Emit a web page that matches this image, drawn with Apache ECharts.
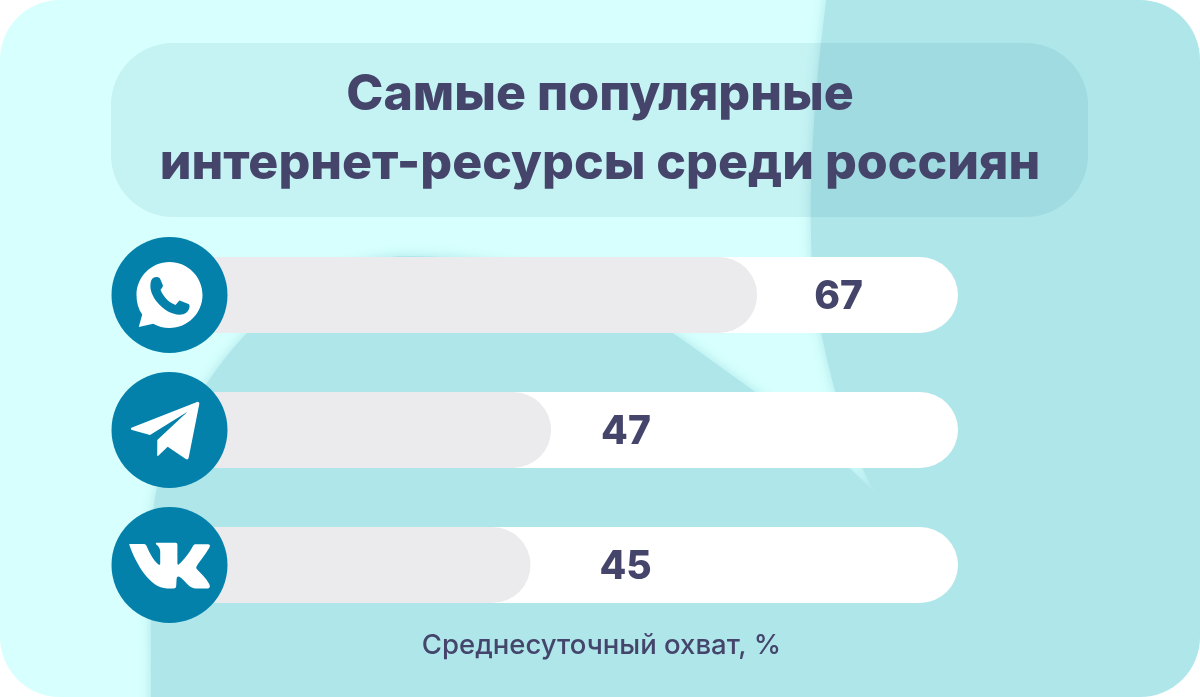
<!DOCTYPE html>
<html><head><meta charset="utf-8">
<style>html,body{margin:0;padding:0;background:#fff}#c{width:1200px;height:697px}</style>
<script src="https://cdn.jsdelivr.net/npm/echarts@6/dist/echarts.min.js"></script>
</head><body><div id="c"></div>
<script>
const categories = ['WhatsApp', 'Telegram', 'VK'];
const reach = [67, 47, 45];
const titleText = 'Самые популярные\nинтернет-ресурсы среди россиян';
const noteText = 'Среднесуточный охват, %';

const INK = '#45456b', BLUE = '#0381ab';
const labelGap = [57, 50, 69];
const axisMin = 10, axisMax = 86.5;

const chart = echarts.init(document.getElementById('c'), null, {renderer: 'canvas'});
function circle(cy) {
  return {type: 'circle', z: 10, silent: true, shape: {cx: 169.5, cy, r: 58}, style: {fill: BLUE}};
}
let shapeId = 0;
function raw(d, fill, z, extra) {
  const name = 'decor' + (shapeId++);
  echarts.graphic.registerShape(name, echarts.graphic.extendPath(d, {}));
  return {type: name, z: z, silent: true, style: Object.assign({fill: fill}, extra || {})};
}
const panel = {type: 'rect', z: -3, silent: true, shape: {x: 0, y: 0, width: 1200, height: 697, r: 60}, style: {fill: '#d6fffd'}};
const tealPath = 'M829 -20 L1220 -20 L1220 717 L151 717 C151 590 149 530 156 492 C188 385 280 256 410 256 C520 256 610 290 680 338 C745 385 820 435 876 494 C850 450 830 385 815 300 C808 240 808 130 829 -20 Z';
const cornerMask = 'M1140 0 L1200 0 L1200 60 A60 60 0 0 0 1140 0 Z M1200 637 L1200 697 L1140 697 A60 60 0 0 0 1200 637 Z';
const pill = {type: 'rect', z: -1, silent: true, shape: {x: 111, y: 43, width: 977, height: 174, r: 62}, style: {fill: 'rgba(0,92,128,0.08)'}};

const waBubble = 'M169.5 262 C187.7 262 202.5 276.8 202.5 295 C202.5 313.2 187.7 328 169.5 328 C163.5 328 158 326.4 153.2 323.7 L138.8 327 L142.2 314.6 C138.3 309.1 136.5 302.5 136.5 295 C136.5 276.8 151.3 262 169.5 262 Z';
const waPhone = 'M153 278 C156 276.5 158.5 277 160 278.5 L162.8 285 C163.3 286.5 162 288 160.5 289.8 C162 294 167 302 175.5 305 C177.5 303 178.5 301 179.5 300.5 L188.5 304 C190.5 305 189.5 310 186.5 312.5 C182 316 175 315 168 311.5 C160 307 152.5 298 150.8 290 C150 285 150.5 280 153 278 Z';
const tgPlane = 'M197 401.9 C198.5 401.4 199.6 402.5 199.3 404 L188.6 458 C188.2 459.5 186.8 459.7 185.8 459 L167.7 446.7 L158.3 455.8 C157.8 456.3 157.2 456 157.2 455.2 L157.3 440 L187.5 411.7 L150 435 L132 430 C130.4 429.4 130.5 428 132 427.4 Z';
const vkLogo = 'M129.3 544.8 C129 544.4 129.6 544 130 544 L144 544 C145.5 544 146.2 545 146.8 546.5 C150 554 154 561 158.5 564.5 C159.8 565.3 160.2 564.8 160.2 563 L160.2 551 C160 547.5 157.5 545.5 156 544.2 C155.6 543.4 156 542.7 157 542.7 L175.5 542.7 C176.9 542.7 177.4 543.6 177.4 545 L177.4 563 C177.4 564.6 178 565 178.6 564.5 C184 560 190 552 193 546 C193.6 544.8 194.4 544.2 195.6 544.2 L208 544.2 C209.8 544.2 210.3 545.2 209.8 546.6 C207.5 552 200 561 196.8 566 C196 567.3 196 568 196.8 569 C200 572.5 206 578 209.2 584 C210.6 587 209.5 588.4 207.5 588.4 L195 588.4 C190 588.4 186 582 180.5 577.5 C178 575.8 176.8 576.6 176.6 579 L176.2 586 C176 587.8 175.4 588.4 173.5 588.4 L167 588.4 C150 588.4 136 564 129.3 544.8 Z';

chart.setOption({
  animation: false,
  backgroundColor: '#fff',
  title: [
    {text: titleText, left: 595, top: 55, textAlign: 'center', z: 6,
     textStyle: {fontFamily: 'Inter', fontWeight: 800, fontSize: 50, lineHeight: 69, color: INK}},
    {text: noteText, left: 596.5, top: 626, textAlign: 'center', z: 6,
     textStyle: {fontFamily: 'Inter', fontWeight: 500, fontSize: 27.5, lineHeight: 30, color: INK}}
  ],
  grid: {left: 170, width: 788, top: 227.5, height: 405},
  xAxis: {type: 'value', min: axisMin, max: axisMax, show: false},
  yAxis: {type: 'category', data: categories, inverse: true, show: false},
  series: [
    {type: 'bar', barWidth: 76, barGap: '-100%', silent: true,
     data: reach.map(() => axisMax),
     itemStyle: {color: '#fff', borderRadius: 38}},
    {type: 'bar', barWidth: 76, silent: true,
     data: reach.map((v, i) => ({value: v, label: {distance: labelGap[i]}})),
     itemStyle: {color: '#ebebed', borderRadius: 38},
     label: {show: true, position: 'right', offset: [0, 2], fontFamily: 'Inter', fontWeight: 800, fontSize: 39, color: INK}}
  ],
  graphic: {elements: [
    panel,
    raw(tealPath, '#aee6ea', -2, {shadowBlur: 12, shadowColor: '#aee6ea'}),
    raw(cornerMask, '#fff', -1.5),
    pill,
    circle(295), circle(430), circle(565),
    raw(waBubble, '#fff', 11),
    raw(waPhone, BLUE, 12),
    raw(tgPlane, '#fff', 11),
    raw(vkLogo, '#fff', 11)
  ]}
});
</script></body></html>
